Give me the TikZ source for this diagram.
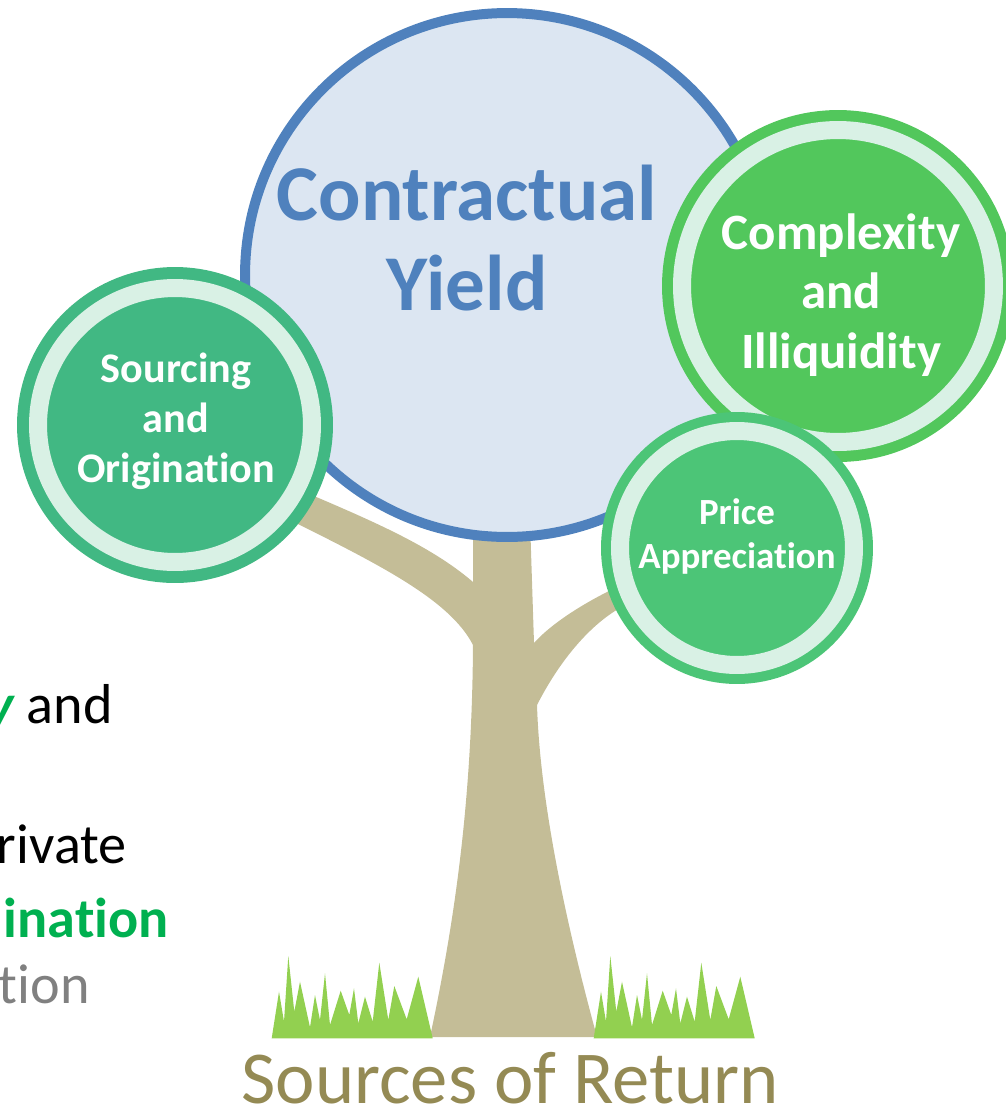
\documentclass[tikz,border=0pt]{standalone}
\usepackage{fontspec}
\setmainfont{Carlito}[Ligatures=NoCommon]

\definecolor{yieldblue}{HTML}{4F81BD}
\definecolor{yieldfill}{HTML}{DCE6F2}
\definecolor{barkbrown}{HTML}{C4BD97}
\definecolor{grassgreen}{HTML}{92D050}
\definecolor{sourcegreen}{HTML}{41B883}
\definecolor{complexgreen}{HTML}{52C75C}
\definecolor{pricegreen}{HTML}{4CC577}
\definecolor{ringmint}{HTML}{D9F1E5}
\definecolor{groundolive}{HTML}{948A54}
\definecolor{notegreen}{HTML}{00B050}
\definecolor{notegray}{HTML}{808080}

\tikzset{
  leaf/.style={circle, fill=#1, draw=#1, double=ringmint, double distance=0.36cm,
    inner sep=0pt},
  leaftext/.style={text=white, align=center, inner sep=0pt},
  note/.style={anchor=base east, inner sep=0pt, font=\fontsize{32}{38}\selectfont},
}

\begin{document}
\begin{tikzpicture}[x=0.02cm, y=-0.02cm]
\useasboundingbox (0,0) rectangle (1006,1110);
\clip (0,0) rectangle (1006,1110);

% Trunk with its two branches
\fill[barkbrown] (473,520) -- (473,582)
  .. controls (430,545) and (370,520) .. (300,490)
  -- (290,520)
  .. controls (380,565) and (450,600) .. (473,645)
  .. controls (472,800) and (455,920) .. (430,1037)
  -- (597,1037)
  .. controls (565,920) and (540,800) .. (537,705)
  .. controls (560,660) and (590,625) .. (620,608)
  -- (615,588)
  .. controls (580,605) and (550,625) .. (534,643)
  -- (530,520) -- cycle;

% Grass tufts left and right of the trunk
\foreach \gx in {0,322}
  \fill[grassgreen, shift={(\gx,0)}] (271.7,1038.3) -- (279,991.7) -- (284,1021.7)
    -- (288.3,956) -- (294.3,1011.7) -- (300,981.7) -- (310,1027.3) -- (315,995)
    -- (320,1020) -- (325,973.3) -- (330,1025) -- (340.7,990.7) -- (349.3,1015)
    -- (354,988.3) -- (358.3,1023.3) -- (365,996.7) -- (372.7,1021.7)
    -- (379.3,962.7) -- (388.3,1020) -- (394.3,986) -- (406.7,1019.3)
    -- (418.3,976.7) -- (432.7,1038.3) -- cycle;

% Main crown
\node[circle, fill=yieldfill, draw=yieldblue, line width=0.2cm,
  minimum size=10.48cm, inner sep=0pt] (yield) at (507,275) {};
\node[text=yieldblue, align=center, font=\bfseries\fontsize{45}{51}\selectfont]
  (yieldlabel) at (467,238) {Contractual\\Yield};

% Smaller crowns
\node[leaf=sourcegreen, line width=0.24cm, minimum size=5.48cm] (sourcing) at (175,425) {};
\node[leaf=complexgreen, line width=0.22cm, minimum size=6.24cm] (complexity) at (838,286) {};
\node[leaf=pricegreen, line width=0.2cm, minimum size=4.68cm] (price) at (737,548) {};

\node[leaftext, font=\bfseries\fontsize{24}{28.5}\selectfont] (sourcingtext)
  at (176,421) {Sourcing\\and\\Origination};
\node[leaftext, font=\bfseries\fontsize{29}{34}\selectfont] (complexitytext)
  at (841,295) {Complexity\\and\\Illiquidity};
\node[leaftext, font=\bfseries\fontsize{21}{25}\selectfont] (pricetext)
  at (737,536) {Price\\Appreciation};

% Ground caption
\node[text=groundolive, anchor=base, inner sep=0pt,
  font=\fontsize{42.5}{48}\selectfont] (ground) at (510,1103) {Sources of Return};

% Text running in from the left column
\node[note] (noteA) at (113,723) {\textcolor{notegreen}{\bfseries\itshape y} and};
\node[note] (noteB) at (127,863) {rivate};
\node[note, text=notegreen, font=\bfseries\fontsize{32}{38}\selectfont] (noteC) at (169,937) {ination};
\node[note, text=notegray] (noteD) at (90,1003) {tion};
\end{tikzpicture}
\end{document}
